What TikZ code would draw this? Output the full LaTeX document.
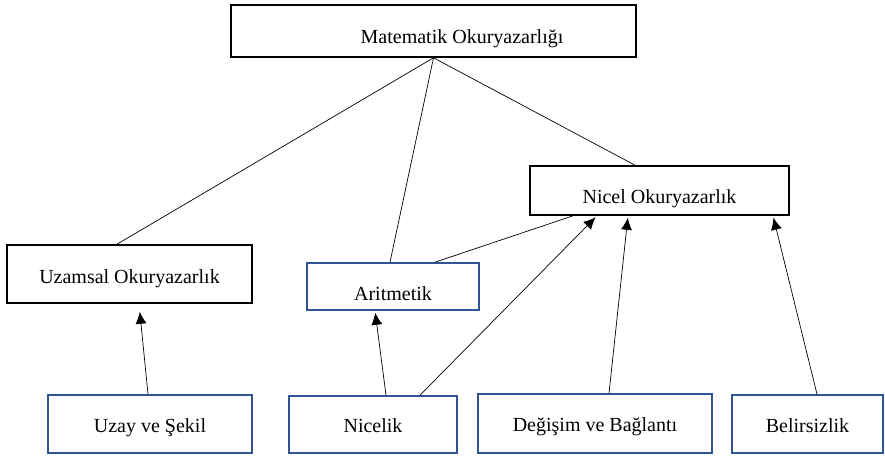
\documentclass[tikz,border=0pt]{standalone}
\usepackage{fontspec}
\setmainfont{Liberation Serif}
\usepackage{tikz}
\usetikzlibrary{arrows.meta}
\definecolor{boxblue}{RGB}{47,85,151}

\begin{document}
\begin{tikzpicture}[x=1pt, y=-1pt,
block/.style={rectangle, draw=black, line width=1.6pt, inner sep=0pt,
text centered, text depth=4pt, text height=#1, font=\fontsize{20pt}{24pt}\selectfont},
block/.default=20pt,
blueblock/.style={block=#1, draw=boxblue},
blueblock/.default=20pt,
link/.style={line width=0.7pt},
>={Latex[length=12pt,width=11pt]}
]
\useasboundingbox (0,0) rectangle (885,455);

\node[block=28pt, minimum width=405pt, minimum height=52pt] (n1) at (433.5,31) {\hspace*{57pt}Matematik Okuryazarlığı};
\node[block=29pt, minimum width=259pt, minimum height=49pt] (n2) at (659.5,190.5) {Nicel Okuryazarlık};
\node[block=22pt, minimum width=245pt, minimum height=58pt] (n3) at (129.5,274) {Uzamsal Okuryazarlık};
\node[blueblock=31pt, minimum width=172pt, minimum height=47pt] (n4) at (393,286.5) {Aritmetik};
\node[blueblock, minimum width=204pt, minimum height=58pt] (n5) at (150,424) {Uzay ve Şekil};
\node[blueblock, minimum width=168pt, minimum height=57pt] (n6) at (373,424.5) {Nicelik};
\node[blueblock, minimum width=234pt, minimum height=59pt] (n7) at (595,423.5) {Değişim ve Bağlantı};
\node[blueblock, minimum width=151pt, minimum height=58pt] (n8) at (807.5,424) {Belirsizlik};

\draw[link] (n1.south)--([xshift=-12.5pt]n3.north);
\draw[link] (n1.south)--([xshift=-3pt]n4.north);
\draw[link] (n1.south)--([xshift=-24.5pt]n2.north);
\draw[link] ([xshift=42pt]n4.north)--([xshift=-86.5pt]n2.south);
\draw[link, ->, shorten >=2pt] ([xshift=47pt]n6.north)--([xshift=-62.5pt]n2.south);
\draw[link, ->, shorten >=2pt] ([xshift=14pt]n7.north)--([xshift=-31.5pt]n2.south);
\draw[link, ->, shorten >=2pt] ([xshift=9.5pt]n8.north)--([xshift=113.5pt]n2.south);
\draw[link, ->, shorten >=8pt] ([xshift=-2pt]n5.north)--([xshift=9.5pt]n3.south);
\draw[link, ->, shorten >=2pt] ([xshift=13pt]n6.north)--([xshift=-18pt]n4.south);
\end{tikzpicture}
\end{document}
